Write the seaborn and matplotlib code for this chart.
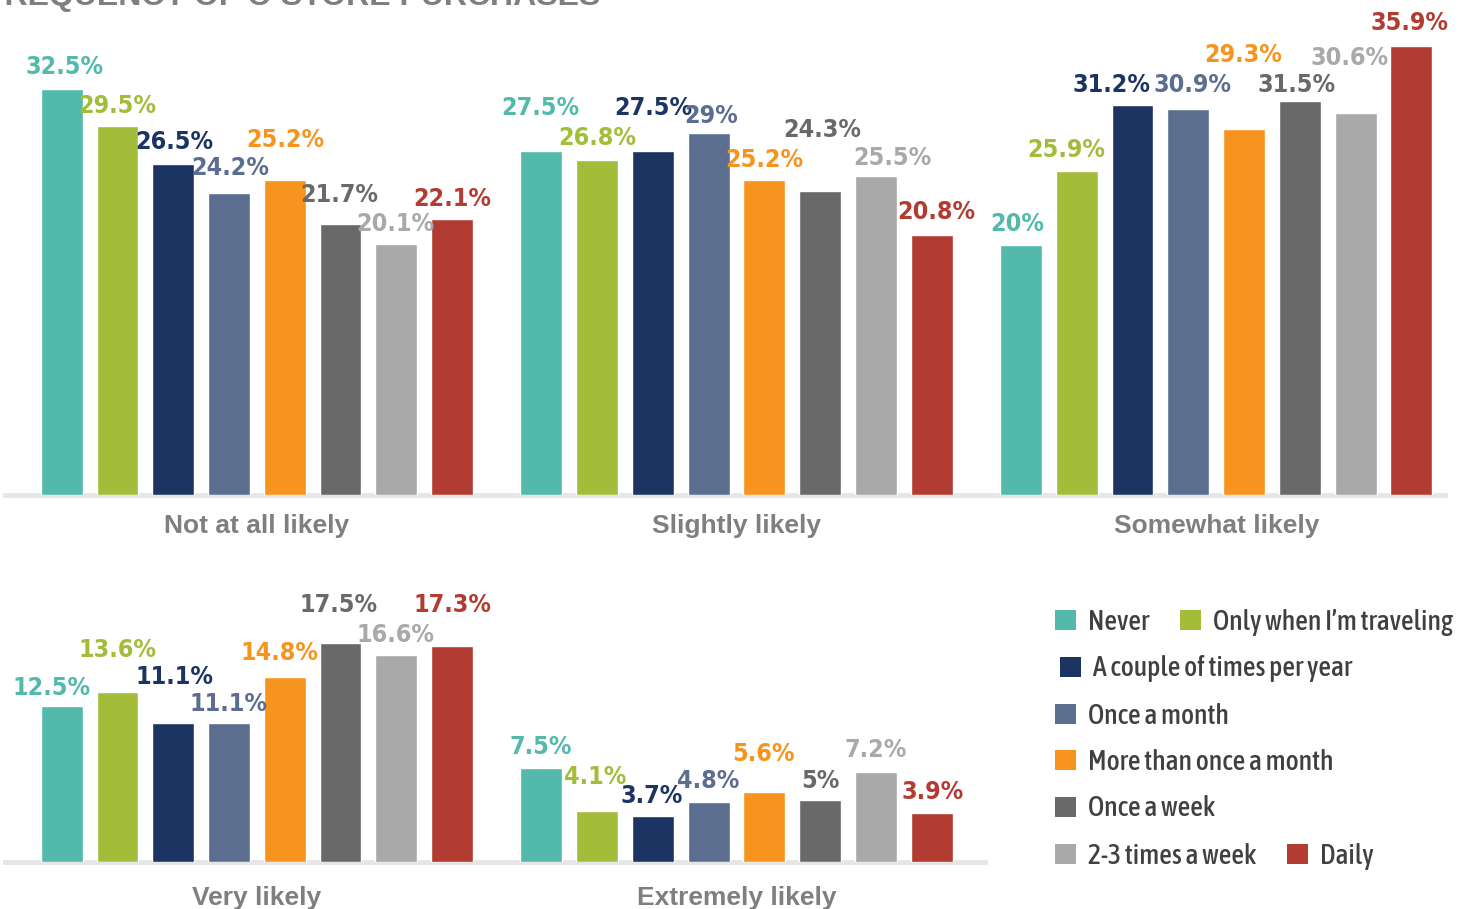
import pandas as pd
import matplotlib.pyplot as plt
import seaborn as sns
from matplotlib.patches import Patch
from matplotlib import font_manager

sns.set_style("white")

# ---------------- data ----------------
frequencies = ["Never", "Only when I\u2019m traveling", "A couple of times per year",
               "Once a month", "More than once a month", "Once a week",
               "2-3 times a week", "Daily"]
colors = ["#52b9ab", "#a3bd3a", "#1b3461", "#5c6e8f",
          "#f7941e", "#696969", "#a9a9a9", "#b33c32"]

top_groups = ["Not at all likely", "Slightly likely", "Somewhat likely"]
bottom_groups = ["Very likely", "Extremely likely"]

not_at_all = [32.5, 29.5, 26.5, 24.2, 25.2, 21.7, 20.1, 22.1]
slightly = [27.5, 26.8, 27.5, 29.0, 25.2, 24.3, 25.5, 20.8]
somewhat = [20.0, 25.9, 31.2, 30.9, 29.3, 31.5, 30.6, 35.9]
very = [12.5, 13.6, 11.1, 11.1, 14.8, 17.5, 16.6, 17.3]
extremely = [7.5, 4.1, 3.7, 4.8, 5.6, 5.0, 7.2, 3.9]

# legend rows as in the original layout
legend_rows = [[0, 1], [2], [3], [4], [5], [6, 7]]

# hand placed value labels: (dx, dy) in pixels from the top centre of each bar
label_nudge = {
    "Not at all likely": [(3, 22), (0, 20), (1, 22), (1, 25), (1, 40), (-1, 29), (-1, 20), (0, 20)],
    "Slightly likely": [(-1, 43), (0, 22), (0, 43), (2, 17), (0, 20), (2, 61), (16, 18), (5, 23)],
    "Somewhat likely": [(-4, 21), (-11, 21), (-21, 20), (4, 24), (-1, 74), (-3, 16), (-6, 55), (-2, 23)],
    "Very likely": [(-10, 18), (0, 42), (1, 46), (0, 19), (-5, 24), (-2, 38), (-1, 20), (0, 41)],
    "Extremely likely": [(-1, 21), (-2, 34), (-1, 20), (0, 21), (-1, 38), (0, 18), (0, 22), (1, 21)],
}

def to_long(groups, values):
    rows = []
    for g, vals in zip(groups, values):
        for f, v in zip(frequencies, vals):
            rows.append({"likelihood": g, "frequency": f, "pct": v})
    return pd.DataFrame(rows)

df_top = to_long(top_groups, [not_at_all, slightly, somewhat])
df_bottom = to_long(bottom_groups, [very, extremely])

# ---------------- fonts: look for a narrow face ----------------
def find_narrow(bold):
    best = None
    for f in font_manager.fontManager.ttflist:
        fn = f.fname.lower().replace("-", "").replace("_", "")
        if "italic" in fn or "oblique" in fn or "extracondensed" in fn or "semicondensed" in fn:
            continue
        if not ("condensed" in fn or "narrow" in fn or f.stretch == "condensed"):
            continue
        w = f.weight if isinstance(f.weight, int) else (700 if "bold" in str(f.weight) else 400)
        if "bold" in fn:
            w = max(w, 700)
        score = abs(w - (700 if bold else 500))
        if best is None or score < best[0]:
            best = (score, f.fname)
    return best[1] if best else None

bold_path = find_narrow(True)
reg_path = find_narrow(False)
if bold_path:
    value_prop = font_manager.FontProperties(fname=bold_path, size=18)
    legend_prop = font_manager.FontProperties(fname=reg_path or bold_path, size=20)
else:
    value_prop = font_manager.FontProperties(family="DejaVu Sans", weight="bold",
                                             stretch="condensed", size=15)
    legend_prop = font_manager.FontProperties(family="DejaVu Sans", stretch="condensed", size=16)

# ---------------- figure ----------------
W, H = 1461, 909
fig = plt.figure(figsize=(W / 100, H / 100), dpi=100)
cat_color = "#7f7f7f"

def px_axes(x0, x1, y_base, y_top):
    return fig.add_axes([x0 / W, 1 - y_base / H, (x1 - x0) / W, (y_base - y_top) / H])

ax_top = px_axes(5, 1445, 495, 30)
ax_bot = px_axes(5, 985, 862, 587)

panels = [(ax_top, df_top, top_groups, 37.2, 2.477, 14),
          (ax_bot, df_bottom, bottom_groups, 22.0, 1.518, 17)]
for ax, df, groups, ymax, xmax, pad in panels:
    sns.barplot(data=df, x="likelihood", y="pct", hue="frequency",
                hue_order=frequencies, palette=colors, width=0.93, gap=0.25,
                saturation=1, legend=False, ax=ax)
    ax.set_ylim(0, ymax)
    ax.set_xlim(-0.525, xmax)
    ax.set_xlabel("")
    ax.set_ylabel("")
    ax.set_yticks([])
    for side in ["left", "right", "top"]:
        ax.spines[side].set_visible(False)
    ax.spines["bottom"].set_color("#e6e6e6")
    ax.spines["bottom"].set_linewidth(3.5)
    ax.spines["bottom"].set_zorder(0)
    ax.tick_params(axis="x", length=0, pad=pad)
    for t in ax.get_xticklabels():
        t.set_fontsize(19)
        t.set_fontweight("bold")
        t.set_color(cat_color)
        t.set_family(["Liberation Sans", "DejaVu Sans"])
    # value labels, each above its own bar
    for k, (cont, c) in enumerate(zip(ax.containers, colors)):
        for g_idx, bar in enumerate(cont):
            h = bar.get_height()
            dx, dy = label_nudge[groups[g_idx]][k]
            ax.annotate(f"{h:g}%", xy=(bar.get_x() + bar.get_width() / 2, h),
                        xytext=(dx, dy), textcoords="offset pixels",
                        ha="center", va="center", color=c,
                        fontproperties=value_prop, annotation_clip=False)

# cut-off title at the very top
fig.text(-15 / W, 1 - 5 / H, "FREQUENCY OF C-STORE PURCHASES", fontsize=23,
         fontweight="bold", color="#7f7f7f", va="baseline", ha="left",
         family=["Liberation Sans", "DejaVu Sans"])

# legend, one row at a time
row_y = [622, 669, 716, 762, 809, 856]
row_x = [1055, 1060, 1055, 1055, 1055, 1055]
for idxs, y, x in zip(legend_rows, row_y, row_x):
    handles = [Patch(facecolor=colors[i], edgecolor="none") for i in idxs]
    labels = [frequencies[i] for i in idxs]
    fig.legend(handles, labels, loc="center left", bbox_to_anchor=(x / W, 1 - y / H),
               ncol=len(idxs), frameon=False, borderpad=0, borderaxespad=0,
               handlelength=0.75, handleheight=0.75, handletextpad=0.45,
               columnspacing=1.1, labelcolor="#404040", prop=legend_prop)

fig.savefig("out.png", dpi=100)
